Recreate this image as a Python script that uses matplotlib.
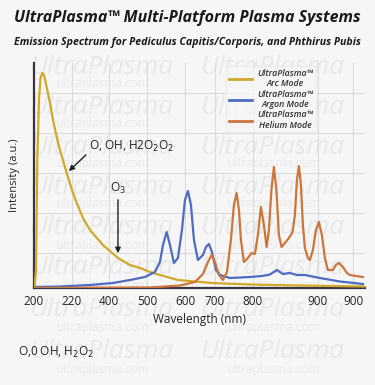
import matplotlib
matplotlib.use("Agg")
import matplotlib.pyplot as plt
from matplotlib.lines import Line2D

# ---- data (nominal axis units) ----
arc_x = [201.3, 205.3, 208.8, 213.3, 217.3, 222.1, 226.7, 232, 242.7, 250.7, 260.5, 269.3,
         287.2, 301.3, 313.9, 330.7, 349.3, 384, 424, 456, 482.7, 509.3, 536, 584, 674.7,
         776, 909.3, 1082.7]
arc_y = [0, 0.09, 0.64, 0.94, 1.05, 1.075, 1.065, 1.02, 0.925, 0.84, 0.755, 0.69,
         0.575, 0.49, 0.425, 0.35, 0.29, 0.215, 0.15, 0.115, 0.1, 0.08, 0.065, 0.04, 0.025,
         0.0175, 0.0125, 0.0075]

argon_x = [205.3, 269.3, 349.3, 410.7, 456, 496, 522.7, 536, 544, 553.9, 562.7, 573.3, 584,
           594.7, 602.7, 610.7, 618.7, 626.7, 637.3, 650.7, 658.7, 666.7, 674.7, 685.3, 696,
           722.7, 776, 808, 829.3, 848, 864, 882.7, 901.3, 922.7, 962.7, 1016, 1077.3]
argon_y = [0.005, 0.0075, 0.015, 0.025, 0.04, 0.055, 0.08, 0.13, 0.215, 0.28, 0.215, 0.125,
           0.15, 0.29, 0.44, 0.485, 0.415, 0.24, 0.14, 0.165, 0.205, 0.22, 0.18, 0.09, 0.065,
           0.05, 0.055, 0.06, 0.0675, 0.09, 0.07, 0.075, 0.065, 0.065, 0.05, 0.0325, 0.02]

helium_x = [205.3, 509.3, 589.3, 629.3, 650.7, 664, 673.9, 682.7, 693.3, 704, 714.7, 725.3,
            733.3, 740.5, 746.7, 752, 760, 770.7, 780.5, 789.3, 797.3, 805.3, 813.3, 820.5,
            826.7, 833.3, 840, 846.7, 853.3, 860.5, 869.3, 880, 889.9, 896, 901.3, 906.7,
            912, 917.3, 922.7, 930.7, 936, 944, 952, 960, 968, 976, 984, 997.3, 1005.3,
            1013.3, 1024, 1034.7, 1042.7, 1058.7, 1077.3]
helium_y = [0, 0.0025, 0.0125, 0.03, 0.07, 0.13, 0.165, 0.13, 0.065, 0.04, 0.08, 0.24,
            0.415, 0.475, 0.39, 0.24, 0.13, 0.15, 0.175, 0.17, 0.265, 0.405, 0.315, 0.205,
            0.29, 0.49, 0.605, 0.49, 0.265, 0.205, 0.225, 0.25, 0.28, 0.365, 0.54, 0.61,
            0.515, 0.315, 0.2, 0.15, 0.14, 0.19, 0.29, 0.33, 0.265, 0.15, 0.09, 0.09, 0.115,
            0.125, 0.105, 0.075, 0.065, 0.06, 0.055]

tick_pos = [200, 301, 400, 501, 603, 683, 784, 957, 1051]
tick_labels = ["200", "220", "400", "500", "600", "700", "800", "900", "900"]

series_labels = ["UltraPlasma\u2122\nArc Mode", "UltraPlasma\u2122\nArgon Mode",
                 "UltraPlasma\u2122\nHelium Mode"]
colors = ["#D2A82A", "#4D6CC2", "#CD763B"]

BG = "#F6F6F6"
W, H = 375, 385
fig = plt.figure(figsize=(W / 100, H / 100), dpi=100, facecolor=BG)

# watermarks
for yb in [67, 107, 147, 187, 228, 268, 310, 352]:
    for xc in [102, 273]:
        fig.text(xc / W, 1 - yb / H, "UltraPlasma", fontsize=19, style="italic",
                 family="Open Sans", color="#000000", alpha=0.055, ha="center",
                 va="center", zorder=-2)
        fig.text(xc / W, 1 - (yb + 17) / H, "ultraplasma.com", fontsize=8.5,
                 family="Open Sans", color="#000000", alpha=0.05, ha="center",
                 va="center", zorder=-2)

ax = fig.add_axes([34 / W, 1 - 288 / H, (365 - 34) / W, (288 - 63) / H])
ax.set_facecolor("none")
ax.plot(arc_x, arc_y, color=colors[0], lw=1.6, zorder=3)
ax.plot(argon_x, argon_y, color=colors[1], lw=1.6, zorder=4)
ax.plot(helium_x, helium_y, color=colors[2], lw=1.6, zorder=5)

ax.set_xlim(200, 1083)
ax.set_ylim(0, 1.125)
ax.set_xticks(tick_pos)
ax.set_xticklabels(tick_labels, family="Open Sans", fontsize=8.5, color="#222222")
ax.set_yticks([0.175, 0.375, 0.575, 0.775, 0.975])
ax.set_yticklabels([])
ax.tick_params(length=0, pad=5)
ax.grid(True, color="#DADADA", lw=0.7)
for s in ["top", "right"]:
    ax.spines[s].set_visible(False)
for s in ["left", "bottom"]:
    ax.spines[s].set_color("#3a3340")
    ax.spines[s].set_linewidth(1.6)
ax.set_xlabel("Wavelength (nm)", family="Open Sans", fontsize=8.5, color="#222222",
              labelpad=4)
ax.set_ylabel("Intensity (a.u.)", family="Open Sans", fontsize=8, color="#222222",
              labelpad=5)

# annotations
ax.annotate("", xy=(287.5, 0.575), xytext=(344, 0.675),
            arrowprops=dict(arrowstyle="-|>", color="#222222", lw=1.0, mutation_scale=8))
ax.text(347, 0.71, "O, OH, H2O$_2$O$_2$", family="Open Sans", fontsize=8.5,
        color="#222222", va="center", ha="left")
ax.annotate("", xy=(424, 0.16), xytext=(424, 0.455),
            arrowprops=dict(arrowstyle="-|>", color="#222222", lw=1.0, mutation_scale=8))
ax.text(424, 0.5, "O$_3$", family="Open Sans", fontsize=8.5, color="#222222",
        va="center", ha="center")

handles = [Line2D([], [], color=c, lw=2) for c in colors]
leg = fig.legend(handles, series_labels, loc="upper left",
                 bbox_to_anchor=(222 / W, 1 - 62 / H), frameon=True,
                 prop=dict(family="Open Sans", style="italic", weight="semibold", size=6.3),
                 handlelength=2.6, labelspacing=0.15, borderpad=0.3, handletextpad=0.6)
leg.get_frame().set_facecolor(BG)
leg.get_frame().set_edgecolor("#EAEAEA")
leg.get_frame().set_alpha(0.8)
for t in leg.get_texts():
    t.set_multialignment("center")
    t.set_color("#333333")

fig.text(187 / W, 1 - 18 / H, "UltraPlasma\u2122 Multi-Platform Plasma Systems",
         family="Open Sans", style="italic", weight="bold", fontsize=11.5,
         color="#1a1a1a", ha="center", va="center")
fig.text(187 / W, 1 - 42 / H,
         "Emission Spectrum for Pediculus Capitis/Corporis, and Phthirus Pubis",
         family="Open Sans", style="italic", weight="bold", fontsize=7.7,
         color="#1a1a1a", ha="center", va="center")
fig.text(18 / W, 1 - 352 / H, "O,0 OH, H$_2$O$_2$", family="Open Sans", fontsize=8.5,
         color="#222222", ha="left", va="center")

fig.savefig("out.png", dpi=100, facecolor=BG)
